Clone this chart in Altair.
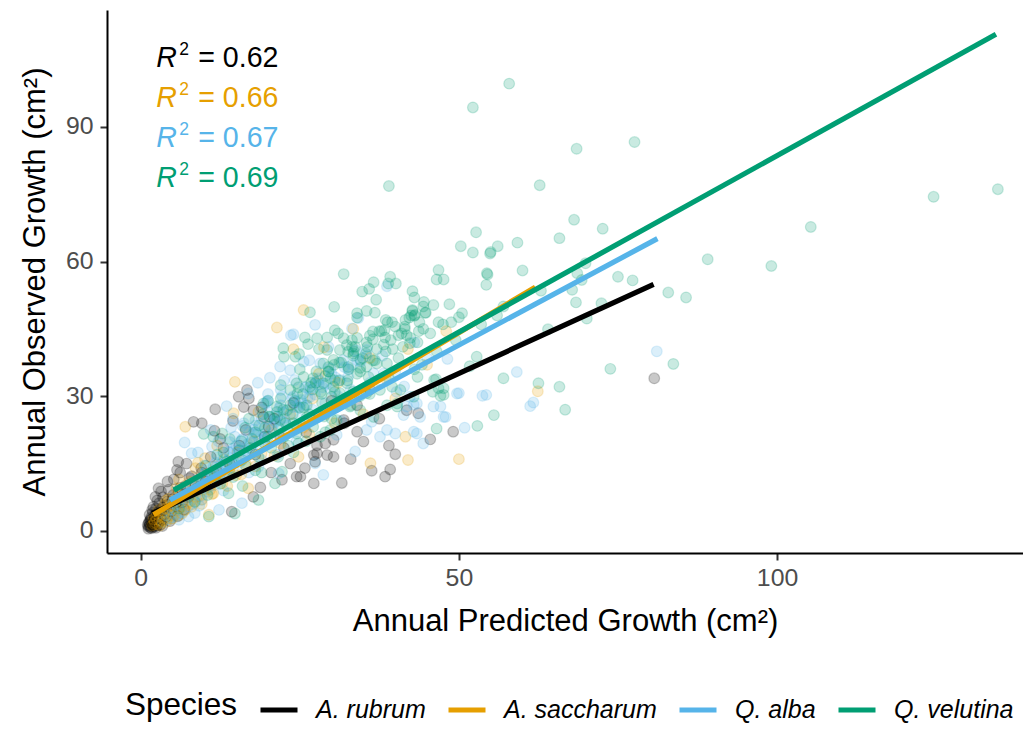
import altair as alt
import pandas as pd

FONT = "Liberation Sans"
species = ["A. rubrum", "A. saccharum", "Q. alba", "Q. velutina"]
colors = ["#000000", "#E69F00", "#56B4E9", "#009E73"]
r2_text = ["= 0.62", "= 0.66", "= 0.67", "= 0.69"]
r2_y = [103.3, 94.4, 85.5, 76.6]

# fitted lines (start / end)
fit_x0 = [1.8, 2.0, 4.6, 5.2]
fit_y0 = [3.9, 3.6, 6.9, 9.1]
fit_x1 = [80.6, 62.0, 81.2, 134.4]
fit_y1 = [54.9, 54.3, 65.1, 110.6]

# ---- A. rubrum points
rub_x = [16.7, 15.4, 11.7, 8.3, 9.6, 16.2, 17.7, 19.3, 20.1, 41.8, 43.6, 49.1, 45.5, 34.0, 35.0, 31.9, 30.3, 27.7, 21.9,
         29.0, 29.3, 30.3, 27.4, 25.8, 25.1, 27.2, 31.6, 36.3, 38.4, 39.2, 40.0, 27.2,
         11.6, 5.9, 5.7, 4.2, 2.8, 2.3, 1.8, 1.5, 1.2, 24.5, 22.2, 18.8, 17.7, 14.3, 27.7, 80.7,
         1.5, 1.8, 2.0, 1.6, 2.2, 2.5, 1.9, 2.8, 3.0, 2.4, 3.3, 3.6, 2.9, 4.0, 4.2, 3.5, 4.8, 5.0, 4.4, 5.5,
         6.0, 5.2, 6.5, 7.0, 6.2, 7.5, 8.0, 7.2, 8.8, 9.5, 10.2, 11.0, 12.0, 13.0, 14.0, 12.5, 15.5, 16.5,
         18.0, 19.5, 21.0, 22.5, 24.0, 26.0, 28.0, 30.0, 32.0, 34.0, 36.0, 23.5, 20.5, 19.0, 14.5, 17.0,
         33.0, 37.5, 39.0, 1.2, 1.4, 1.7, 2.1, 1.3, 2.6, 2.3, 1.1, 3.1, 2.7, 1.9, 2.4, 3.4, 4.6, 5.8, 6.8,
         1.3, 1.6, 1.9, 2.2, 2.5, 2.8, 3.1, 3.4, 3.8, 4.2, 4.6, 5.1, 5.6, 6.2, 6.9, 7.7, 8.6, 9.6, 1.4, 2.0, 2.6, 3.2]
rub_y = [31.4, 29.9, 27.1, 24.3, 24.0, 27.6, 26.9, 25.4, 23.2, 26.9, 26.2, 22.1, 20.4, 22.1, 19.9, 24.7, 20.3, 19.1, 21.0,
         19.5, 16.9, 16.5, 15.4, 14.0, 12.1, 10.6, 10.7, 13.4, 12.1, 13.7, 17.1, 16.9,
         22.3, 15.4, 13.6, 11.0, 9.5, 7.6, 4.7, 2.4, 1.0, 12.1, 11.4, 9.7, 7.6, 4.3, 17.3, 34.0,
         0.8, 1.5, 2.2, 3.0, 1.0, 2.8, 4.1, 1.8, 3.5, 5.0, 2.5, 4.6, 6.2, 3.2, 5.8, 7.5, 4.4, 7.0, 9.2, 5.6,
         8.5, 11.5, 6.4, 10.0, 13.0, 7.6, 12.2, 15.0, 9.4, 14.0, 11.0, 16.5, 13.2, 18.5, 15.0, 20.5, 19.0, 22.5,
         17.0, 21.0, 25.0, 18.5, 28.5, 22.0, 26.0, 29.0, 24.0, 28.0, 31.5, 15.0, 13.0, 27.5, 24.5, 29.5,
         16.0, 25.0, 19.0, 0.5, 1.2, 0.6, 1.6, 2.0, 1.2, 3.6, 1.4, 1.4, 4.2, 0.9, 0.7, 1.1, 2.2, 3.3, 4.8,
         1.8, 2.6, 1.2, 3.2, 2.0, 3.9, 2.8, 5.2, 3.8, 6.6, 5.0, 8.0, 6.4, 9.6, 8.2, 11.8, 10.0, 13.0, 3.6, 5.4, 6.8, 8.8]

# ---- A. saccharum points
sac_x = [25.6, 21.4, 33.4, 28.8, 24.0, 14.8, 7.0, 14.6, 41.6, 42.0, 36.1, 50.0, 62.4,
         10.1, 8.6, 24.8, 16.9, 10.7, 6.5, 8.0,
         1.8, 2.2, 2.6, 2.4, 3.0, 3.2, 2.8, 3.6, 3.9, 4.3, 4.6, 4.0, 5.0, 5.4, 5.8, 6.2, 6.6, 7.0, 7.4, 7.9,
         8.4, 8.8, 9.3, 9.8, 10.5, 11.0, 11.8, 12.5, 13.2, 14.0, 15.2, 16.5, 17.8, 19.0, 20.5, 22.0, 23.5,
         25.5, 27.0, 29.0, 31.0, 33.5, 36.0, 38.5, 42.0, 45.0, 48.0, 28.0, 18.5, 12.0, 9.0, 6.0, 35.0, 40.0,
         2.0, 2.9, 3.4, 4.8, 5.2, 3.7, 4.4, 6.9, 7.7, 5.6, 9.6, 11.4, 13.6, 15.8, 18.0, 21.0, 26.5, 30.5,
         2.1, 2.5, 2.9, 3.3, 3.7, 4.1, 4.5, 4.9, 5.3, 5.7, 6.1, 6.5, 7.2, 7.8, 8.5, 9.2, 10.0, 10.9, 11.8,
         12.8, 13.9, 15.0, 3.0, 4.0, 5.0, 6.0, 7.0, 8.2, 9.6, 11.2]
sac_y = [49.2, 45.3, 45.0, 40.9, 40.5, 33.2, 23.2, 26.2, 21.0, 15.8, 15.1, 16.0, 31.1,
         16.2, 14.0, 16.5, 9.5, 3.6, 3.9, 5.4,
         1.2, 2.0, 1.5, 3.0, 2.4, 3.8, 4.6, 3.0, 4.9, 3.6, 5.6, 6.8, 4.4, 6.5, 8.0, 5.2, 7.4, 9.2, 6.2, 8.6,
         10.8, 7.6, 11.6, 9.2, 12.8, 10.2, 14.4, 11.6, 16.0, 13.0, 17.5, 15.0, 20.0, 17.2, 22.5, 19.5, 26.0,
         23.0, 29.5, 26.0, 33.0, 30.0, 38.5, 34.0, 40.5, 37.0, 44.5, 35.0, 26.5, 19.0, 15.2, 11.5, 26.0, 29.5,
         2.6, 1.8, 2.2, 2.8, 3.4, 5.8, 7.2, 4.6, 11.0, 9.5, 6.0, 8.4, 10.0, 12.6, 14.4, 16.8, 21.5, 24.0,
         1.6, 2.6, 3.4, 1.9, 4.2, 2.8, 4.8, 3.6, 5.2, 4.6, 6.0, 5.4, 7.4, 6.6, 8.6, 7.8, 10.0, 9.2, 11.6,
         10.6, 13.6, 12.4, 1.2, 2.0, 2.8, 3.5, 4.8, 6.0, 7.0, 8.2]

# ---- Q. alba points
alb_x = [27.4, 24.0, 34.2, 38.7, 18.4, 16.9, 20.3, 13.5, 19.8, 28.2, 25.6, 23.5, 21.9, 35.5, 35.5, 36.6, 38.2,
         40.2, 42.3, 43.4, 41.8, 43.9, 46.0, 47.6, 49.7, 42.9, 38.7, 35.5, 37.6, 44.4,
         50.0, 53.7, 54.3, 47.1, 41.4, 41.3, 42.9, 43.4, 40.0, 50.9, 33.7, 28.7, 27.4, 30.8, 36.3,
         81.1, 48.2, 59.1, 61.2, 61.7, 47.9, 33.2,
         6.9, 8.0, 19.6, 14.8, 11.2, 18.5, 13.3, 21.7, 9.6, 7.5, 15.9, 12.3,
         3.5, 4.0, 4.5, 5.0, 5.5, 6.0, 6.5, 7.0, 7.5, 8.0, 8.5, 9.0, 9.5, 10.0, 10.5, 11.0, 11.5, 12.0, 12.5,
         13.0, 13.5, 14.0, 14.5, 15.0, 15.5, 16.0, 16.5, 17.0, 17.5, 18.0, 18.5, 19.0, 19.5, 20.0, 21.0, 22.0,
         23.0, 24.0, 25.0, 26.0, 27.0, 28.0, 29.0, 30.0, 31.0, 32.0, 33.0, 34.0, 36.0, 38.0, 40.0, 43.0, 45.0,
         11.0, 14.5, 9.0, 22.5, 26.5, 20.0, 17.0, 21.5, 24.5, 13.0, 8.5, 6.0, 29.5, 31.5, 23.6,
         10.4, 12.8, 15.2, 17.6, 19.0, 21.2, 24.8, 26.2, 29.8, 32.6, 5.8, 7.2, 9.2, 4.8,
         5.2, 6.4, 7.8, 8.6, 9.8, 10.6, 11.8, 12.6, 13.8, 14.6, 15.8, 16.6, 17.8, 18.6, 19.8, 20.6, 21.8, 22.6,
         23.8, 24.6, 25.8, 26.6, 27.8, 28.6, 29.8, 30.6, 31.8, 32.6, 33.8, 34.6, 6.8, 9.2, 11.4, 13.2, 15.4,
         17.2, 19.4, 21.2, 23.4, 25.2, 27.4, 29.2, 31.4, 33.2, 16.2, 18.8, 22.2, 24.2, 12.2, 14.2,
         4.2, 5.6, 7.0, 8.4, 9.8, 11.2, 12.6, 14.0, 15.4, 16.8, 18.2, 19.6, 21.0, 22.4, 23.8, 25.2, 26.6, 28.0,
         5.0, 6.6, 8.2, 9.8, 11.4, 13.0, 14.6, 16.2, 17.8, 19.4, 21.0, 22.6, 24.2, 25.8, 27.4, 10.0, 12.0, 14.0,
         16.0, 18.0, 20.0, 22.0]
alb_y = [45.9, 43.8, 47.4, 54.5, 33.0, 30.6, 34.1, 27.8, 28.8, 37.3, 37.7, 35.8, 36.6, 40.3, 39.0, 35.1, 35.1,
         31.0, 29.9, 28.4, 27.7, 25.4, 27.7, 25.4, 30.6, 22.1, 22.5, 22.5, 21.0, 19.5,
         30.7, 30.1, 30.3, 27.7, 32.2, 25.8, 28.1, 21.7, 21.7, 23.0, 17.7, 12.5, 15.1, 21.4, 24.3,
         40.0, 38.3, 35.4, 27.8, 28.6, 25.4, 45.1,
         19.7, 17.3, 28.4, 21.0, 18.8, 14.3, 12.1, 12.8, 6.9, 3.2, 6.2, 4.7,
         2.0, 3.5, 2.6, 4.8, 3.4, 6.0, 4.2, 7.2, 5.5, 8.6, 6.4, 10.0, 7.8, 11.5, 8.8, 13.0, 10.2, 14.5, 11.4,
         16.0, 12.8, 17.5, 14.0, 19.0, 15.2, 20.5, 16.5, 22.0, 18.0, 23.5, 19.2, 25.0, 20.5, 26.5, 22.0, 28.0,
         23.5, 30.0, 25.0, 32.0, 27.0, 33.5, 28.5, 35.0, 30.0, 36.5, 31.5, 38.0, 33.0, 39.0, 35.5, 42.0, 38.5,
         22.5, 25.0, 17.5, 33.5, 38.0, 30.5, 13.0, 17.0, 20.0, 9.0, 4.0, 2.5, 41.0, 24.5, 43.6,
         9.6, 13.6, 17.8, 19.6, 15.8, 24.2, 27.4, 29.6, 31.6, 34.4, 3.8, 6.8, 5.6, 3.0,
         6.5, 5.2, 9.8, 8.0, 12.6, 10.4, 15.2, 13.0, 17.6, 15.6, 20.2, 18.0, 22.6, 20.4, 25.0, 23.0, 27.4, 25.2,
         29.6, 27.6, 32.0, 29.8, 34.0, 32.0, 36.2, 34.2, 38.0, 36.0, 40.2, 37.8, 9.0, 11.0, 12.4, 15.0, 16.6,
         19.6, 21.0, 24.4, 25.8, 28.6, 30.4, 32.8, 33.6, 37.0, 24.0, 27.0, 30.0, 33.6, 20.0, 23.0,
         4.5, 5.8, 8.2, 9.0, 11.6, 12.4, 14.8, 16.2, 18.0, 19.4, 21.6, 22.8, 24.6, 26.4, 27.6, 29.2, 31.4, 32.6,
         6.2, 7.6, 10.4, 10.2, 14.2, 14.8, 18.4, 17.8, 21.8, 21.6, 25.6, 24.2, 28.8, 28.0, 33.0, 14.6, 16.4, 19.8,
         23.4, 24.6, 29.0, 31.4]

# ---- Q. velutina points
vel_x = [57.9, 52.2, 77.6, 68.5, 62.7, 39.0, 124.6, 134.7, 105.3, 68.1, 72.6, 52.7, 65.8, 59.2, 50.3, 56.1, 55.0,
         52.2, 89.1, 99.1, 82.9, 85.7, 75.0, 77.3, 83.7, 73.8, 46.8, 46.5, 47.6, 54.5, 54.3, 42.7, 46.0, 44.8,
         42.7, 43.0, 46.8, 48.8, 50.0, 69.9, 68.6, 69.3, 67.8, 68.4, 72.4, 70.1, 62.9, 56.0, 64.0, 52.8, 51.7,
         57.0, 62.5, 65.8, 66.7, 55.5, 52.9, 46.1, 47.1, 46.5, 54.4, 54.9,
         31.9, 39.2, 38.9, 40.1, 36.6, 35.9, 34.8, 30.4, 26.6, 34.0, 35.5, 36.8, 42.7, 43.1, 44.7,
         30.5, 29.3, 27.7, 25.8, 26.3, 31.9, 33.2, 32.4, 33.7, 31.3, 32.6, 33.4, 36.5, 36.5, 38.3, 38.4, 40.5,
         41.2, 41.8, 42.3, 22.4, 22.5, 24.3, 24.9, 29.3, 30.3, 28.7, 29.5, 34.5, 35.5, 37.1, 38.7, 34.5, 35.8,
         44.2, 43.5, 46.4, 46.8, 47.6, 25.6, 27.1, 26.6, 24.5, 23.5, 28.7, 30.3, 32.4, 33.4, 31.3, 30.0, 35.5,
         37.6, 39.5, 40.8, 42.9, 40.3, 34.5, 32.9, 38.7, 36.6, 9.9, 11.4, 19.3, 21.4, 20.3, 23.0, 21.9, 24.0,
         26.1, 27.1, 24.5, 28.2, 29.8, 30.8, 47.6, 45.9, 40.3, 12.8, 15.9, 21.1, 22.2, 14.8, 13.8, 21.6, 24.8,
         18.5, 10.7,
         6.0, 7.5, 8.5, 9.5, 10.5, 11.5, 12.5, 13.5, 14.5, 15.5, 16.5, 17.5, 18.5, 19.5, 20.5, 21.5, 22.5, 23.5,
         24.5, 25.5, 26.5, 27.5, 28.5, 29.5, 30.5, 31.5, 32.5, 33.5, 34.5, 35.5, 36.5, 37.5, 38.5, 39.5, 40.5,
         41.5, 42.5, 43.5, 44.5, 45.5, 46.5, 47.5, 48.5, 49.5, 50.5, 53.5, 57.0, 60.0, 25.0, 28.0, 31.0,
         34.0, 37.0, 20.0, 22.0, 17.0, 14.0, 12.0, 26.0, 30.0, 33.0, 36.0, 39.0, 43.0, 24.0, 19.0, 16.0, 29.0,
         10.2, 11.6, 13.0, 14.4, 15.8, 17.2, 18.6, 20.0, 21.4, 22.8, 24.2, 25.6, 27.0, 28.4, 29.8, 31.2, 32.6,
         34.0, 35.4, 36.8, 38.2, 39.6, 41.0, 42.4, 43.8, 16.4, 19.2, 22.0, 24.8, 27.6, 30.4, 33.2, 36.0, 38.8,
         41.6, 44.4, 18.0, 23.2, 28.8, 34.4,
         18.0, 20.2, 22.4, 24.6, 26.8, 29.0, 31.2, 33.4, 35.6, 37.8, 40.0, 42.2, 44.4, 19.5, 21.7, 23.9, 26.1,
         28.3, 30.5, 32.7, 34.9, 37.1, 39.3, 41.5, 43.7, 25.0, 29.5, 34.0, 38.5, 43.0]
vel_y = [99.6, 94.3, 86.6, 85.1, 77.0, 76.8, 74.4, 76.1, 67.7, 69.3, 67.3, 66.5, 65.2, 64.2, 63.4, 63.4, 62.1,
         62.0, 60.5, 59.0, 53.1, 52.0, 56.6, 55.8, 37.2, 36.1, 58.1, 56.0, 56.0, 57.1, 54.8, 53.4, 50.3, 48.6,
         49.0, 47.9, 46.5, 46.5, 47.6, 59.6, 57.4, 55.9, 53.7, 50.9, 50.7, 47.3, 53.5, 48.0, 44.9, 38.8, 36.7,
         34.0, 32.9, 32.1, 27.0, 25.8, 23.4, 33.6, 30.1, 22.8, 57.4, 61.8,
         57.2, 56.6, 55.1, 55.1, 55.4, 53.9, 53.3, 49.9, 48.7, 48.5, 49.0, 48.6, 49.2, 48.1, 48.6,
         44.7, 43.1, 42.9, 43.1, 41.6, 42.9, 42.5, 41.4, 41.0, 40.3, 39.9, 39.0, 44.4, 42.7, 44.7, 43.1, 43.6,
         41.0, 43.6, 41.8, 40.7, 38.8, 38.8, 39.4, 40.3, 38.1, 37.3, 35.5, 38.1, 36.6, 37.3, 37.3, 36.3, 34.3,
         37.0, 34.3, 33.8, 31.8, 30.3, 34.3, 34.0, 32.1, 32.9, 31.4, 32.9, 32.1, 32.9, 31.0, 30.7, 29.9, 30.7,
         31.4, 32.1, 31.4, 29.9, 28.4, 26.9, 27.7, 28.0, 25.4, 21.6, 21.0, 28.4, 27.7, 25.4, 26.9, 24.7, 24.0,
         25.4, 23.2, 21.7, 21.0, 22.5, 24.7, 31.8, 31.0, 27.7, 21.7, 15.8, 10.6, 13.2, 3.9, 8.4, 16.5, 19.5,
         6.9, 3.2,
         5.0, 8.0, 6.5, 10.5, 8.0, 13.0, 10.5, 15.5, 12.0, 18.0, 14.5, 20.5, 16.5, 23.0, 18.5, 25.5, 21.0, 28.0,
         23.5, 30.5, 26.0, 33.0, 28.5, 35.5, 31.0, 37.5, 33.5, 40.0, 35.5, 42.0, 38.0, 44.5, 40.0, 46.5, 38.5,
         45.0, 48.0, 42.0, 51.0, 44.0, 40.0, 46.0, 50.5, 42.5, 48.5, 46.0, 50.0, 58.0, 36.0, 40.5, 44.0,
         47.5, 51.5, 29.0, 32.5, 25.0, 20.5, 17.0, 20.0, 25.0, 28.0, 30.5, 34.0, 36.0, 17.5, 13.0, 10.0, 22.0,
         14.5, 12.0, 17.5, 15.0, 20.0, 18.5, 23.5, 21.0, 26.5, 24.0, 29.0, 27.5, 31.5, 30.5, 34.0, 33.5, 36.5,
         35.0, 39.5, 38.0, 41.5, 40.5, 44.0, 43.0, 46.5, 23.0, 26.0, 29.5, 32.0, 35.5, 37.0, 41.0, 43.5, 46.5,
         47.0, 45.0, 13.5, 19.0, 25.5, 30.0,
         22.0, 25.5, 27.0, 30.5, 33.0, 34.5, 37.5, 39.5, 41.0, 44.5, 45.5, 47.5, 50.0, 19.5, 23.0, 26.0, 28.0,
         31.0, 33.5, 36.0, 38.5, 40.5, 42.5, 45.5, 44.5, 27.5, 36.5, 43.0, 47.0, 52.0]

color_of = dict(zip(species, colors))

rows = []
for sp, xs_, ys_ in zip(species, [rub_x, sac_x, alb_x, vel_x], [rub_y, sac_y, alb_y, vel_y]):
    for x, y in zip(xs_, ys_):
        rows.append({"species": sp, "col": color_of[sp], "x": x, "y": y})
pts = pd.DataFrame(rows)

line_rows = []
for i, sp in enumerate(species):
    line_rows.append({"species": sp, "x": fit_x0[i], "y": fit_y0[i]})
    line_rows.append({"species": sp, "x": fit_x1[i], "y": fit_y1[i]})
lines = pd.DataFrame(line_rows)

ann = pd.DataFrame({"species": species, "col": colors, "x": [2.43] * 4, "y": r2_y,
                    "R": ["R"] * 4, "two": ["2"] * 4, "rest": r2_text})

xs = alt.Scale(domain=[-5.3, 138.65], nice=False, zero=False)
ys = alt.Scale(domain=[-4.9, 116.0], nice=False, zero=False)
cs = alt.Scale(domain=species, range=colors)

X = alt.X("x:Q", scale=xs, axis=alt.Axis(values=[0, 50, 100], title="Annual Predicted Growth (cm\u00b2)",
                                           titlePadding=17, labelPadding=5))
Y = alt.Y("y:Q", scale=ys, axis=alt.Axis(values=[0, 30, 60, 90], title="Annual Observed Growth (cm\u00b2)",
                                           titlePadding=14, labelPadding=7))

fill_layer = alt.Chart(pts).mark_circle(size=115, opacity=0.21).encode(
    x=X, y=Y, fill=alt.Fill("col:N", scale=None))
ring_layer = alt.Chart(pts).mark_point(size=115, opacity=0.2, strokeWidth=1.2, filled=False).encode(
    x="x:Q", y="y:Q", stroke=alt.Stroke("col:N", scale=None))

line_layer = alt.Chart(lines).mark_line(strokeWidth=5.2, strokeCap="butt").encode(
    x="x:Q", y="y:Q",
    color=alt.Color("species:N", scale=cs, sort=species,
                    legend=alt.Legend(title="Species", orient="none", legendX=18, legendY=679,
                                      direction="horizontal", titleOrient="left",
                                      symbolType="stroke", symbolSize=1369, symbolStrokeWidth=5,
                                      labelFontStyle="italic", labelFontSize=25, titleFontSize=31.5,
                                      titleFontWeight="normal", titlePadding=20, labelOffset=16,
                                      columnPadding=12, labelColor="black", titleColor="black",
                                      labelFont=FONT, titleFont=FONT)))

r_layer = alt.Chart(ann).mark_text(align="left", baseline="alphabetic", fontSize=28.6,
                                   fontStyle="italic", font=FONT).encode(
    x="x:Q", y="y:Q", text="R:N", fill=alt.Fill("col:N", scale=None))
two_layer = alt.Chart(ann).mark_text(align="left", baseline="alphabetic", fontSize=17.5, dx=23, dy=-11.7,
                                     font=FONT).encode(
    x="x:Q", y="y:Q", text="two:N", fill=alt.Fill("col:N", scale=None))
rest_layer = alt.Chart(ann).mark_text(align="left", baseline="alphabetic", fontSize=28.6, dx=42,
                                      font=FONT).encode(
    x="x:Q", y="y:Q", text="rest:N", fill=alt.Fill("col:N", scale=None))

chart = alt.layer(fill_layer, ring_layer, line_layer, r_layer, two_layer, rest_layer).properties(
    width=916, height=543,
    autosize=alt.AutoSizeParams(type="none"),
    padding={"left": 99, "top": 2, "right": 0, "bottom": 172},
).configure_view(stroke=None).configure_axis(
    grid=False, domainColor="black", domainWidth=2, tickColor="#333333", tickWidth=2, tickSize=7,
    labelColor="#4D4D4D", labelFontSize=24.8, labelFont=FONT, titleFont=FONT, titleFontSize=31,
    titleFontWeight="normal", titleColor="black",
).configure_text(font=FONT)

chart.save("out.html", embed_options={"renderer": "svg", "actions": False})
